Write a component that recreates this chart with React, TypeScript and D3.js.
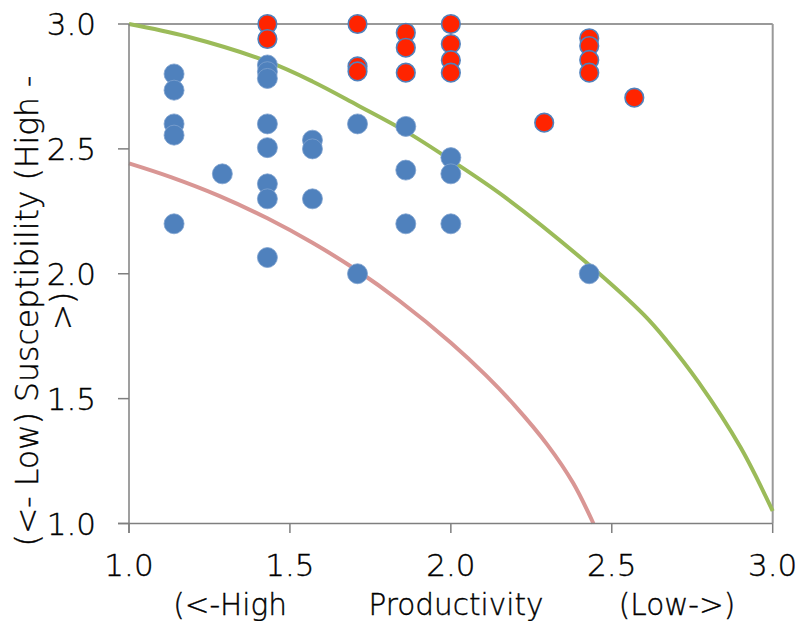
import React from "react";
import * as d3 from "d3";

// ---- data ----
const xTicks = [1.0, 1.5, 2.0, 2.5, 3.0];
const yTicks = [1.0, 1.5, 2.0, 2.5, 3.0];

const blueX = [1.14, 1.14, 1.14, 1.14, 1.14, 1.29, 1.43, 1.43, 1.43, 1.43, 1.43, 1.43, 1.43, 1.43, 1.57, 1.57, 1.57, 1.71, 1.71, 1.86, 1.86, 1.86, 2.0, 2.0, 2.0, 2.43];
const blueY = [2.8, 2.735, 2.6, 2.555, 2.2, 2.4, 2.836, 2.809, 2.782, 2.6, 2.505, 2.36, 2.3, 2.065, 2.535, 2.5, 2.3, 2.6, 2.0, 2.59, 2.415, 2.2, 2.465, 2.4, 2.2, 2.0];

const redX = [1.43, 1.43, 1.71, 1.71, 1.71, 1.86, 1.86, 1.86, 2.0, 2.0, 2.0, 2.0, 2.29, 2.43, 2.43, 2.43, 2.43, 2.57];
const redY = [3.0, 2.94, 3.0, 2.83, 2.81, 2.965, 2.905, 2.805, 3.0, 2.92, 2.855, 2.805, 2.605, 2.943, 2.912, 2.856, 2.805, 2.705];

const greenX = [1.0, 1.18, 1.43, 1.57, 1.71, 1.86, 2.0, 2.17, 2.43, 2.6, 2.67, 2.77, 2.9, 3.0];
const greenY = [3.0, 2.95, 2.85, 2.77, 2.675, 2.57, 2.455, 2.305, 2.035, 1.835, 1.733, 1.565, 1.305, 1.05];

const pinkX = [1.0, 1.13, 1.28, 1.43, 1.57, 1.71, 1.84, 2.0, 2.11, 2.2, 2.3, 2.38, 2.443];
const pinkY = [2.442, 2.387, 2.312, 2.222, 2.124, 2.012, 1.892, 1.724, 1.592, 1.47, 1.315, 1.162, 1.0];

const yTitle1 = "(<- Low) Susceptibility (High -";
const yTitle2 = ">)";
const xTitleParts = ["(<-High", "Productivity", "(Low->)"];

export default function App() {
  const W = 801, H = 621;
  const left = 129, right = 772.7, top = 24, bottom = 523.5;
  const x = d3.scaleLinear().domain([1, 3]).range([left, right]);
  const y = d3.scaleLinear().domain([1, 3]).range([bottom, top]);

  const line = d3.line<[number, number]>()
    .x(d => x(d[0]))
    .y(d => y(d[1]))
    .curve(d3.curveCatmullRom.alpha(0.5));

  const green = line(greenX.map((v, i) => [v, greenY[i]]) as [number, number][]) || "";
  const pink = line(pinkX.map((v, i) => [v, pinkY[i]]) as [number, number][]) || "";

  const font = "'DejaVu Sans', Verdana, sans-serif";
  const axisColor = "#7f7f7f";
  const txt = "#000";
  const tStroke = { stroke: "#000", strokeWidth: 0.4 };

  return (
    <svg width={W} height={H} style={{ position: "absolute", left: 0, top: 0, background: "#fff" }} fontFamily={font} fontWeight={200}>
      <rect x={0} y={0} width={W} height={H} fill="#fff" />
      {/* plot border (top / right) */}
      <line x1={left} x2={right} y1={top} y2={top} stroke="#999" strokeWidth={2} />
      <line x1={right} x2={right} y1={top} y2={bottom} stroke="#999" strokeWidth={2} />

      {/* curves */}
      <path d={pink} fill="none" stroke="#d99694" strokeWidth={4} />
      <path d={green} fill="none" stroke="#9bbb59" strokeWidth={4} />

      {/* axes */}
      <line x1={left} x2={left} y1={top} y2={bottom + 9.5} stroke={axisColor} strokeWidth={1.5} />
      <line x1={left - 11} x2={right} y1={bottom} y2={bottom} stroke={axisColor} strokeWidth={1.5} />
      {yTicks.map(t => (
        <g key={"yt" + t}>
          <line x1={left - 11} x2={left} y1={y(t)} y2={y(t)} stroke={axisColor} strokeWidth={1.5} />
          <text x={96} y={y(t) + 11} textAnchor="end" fontSize={31} fill={txt} {...tStroke}>{t.toFixed(1)}</text>
        </g>
      ))}
      {xTicks.map(t => (
        <g key={"xt" + t}>
          <line x1={x(t)} x2={x(t)} y1={bottom} y2={bottom + 9.5} stroke={axisColor} strokeWidth={1.5} />
          <text x={x(t)} y={576} textAnchor="middle" fontSize={31} fill={txt} {...tStroke}>{t.toFixed(1)}</text>
        </g>
      ))}

      {/* points */}
      {blueX.map((v, i) => (
        <circle key={"b" + i} cx={x(v)} cy={y(blueY[i])} r={10} fill="#4f81bd" stroke="#7fa2cf" strokeWidth={0.8} />
      ))}
      {redX.map((v, i) => (
        <circle key={"r" + i} cx={x(v)} cy={y(redY[i])} r={9.3} fill="#ff2400" stroke="#4f81bd" strokeWidth={1.6} />
      ))}

      {/* axis titles */}
      <text x={230} y={615} textAnchor="middle" fontSize={29.5} fill={txt} {...tStroke}>{xTitleParts[0]}</text>
      <text x={456} y={615} textAnchor="middle" fontSize={29.5} fill={txt} {...tStroke}>{xTitleParts[1]}</text>
      <text x={677} y={615} textAnchor="middle" fontSize={29.5} fill={txt} {...tStroke}>{xTitleParts[2]}</text>

      <g transform="translate(38,311) rotate(-90)">
        <text x={0} y={0} textAnchor="middle" fontSize={31.5} fill={txt} {...tStroke}>{yTitle1}</text>
        <text x={0} y={35} textAnchor="middle" fontSize={31.5} fill={txt} {...tStroke}>{yTitle2}</text>
      </g>
    </svg>
  );
}
